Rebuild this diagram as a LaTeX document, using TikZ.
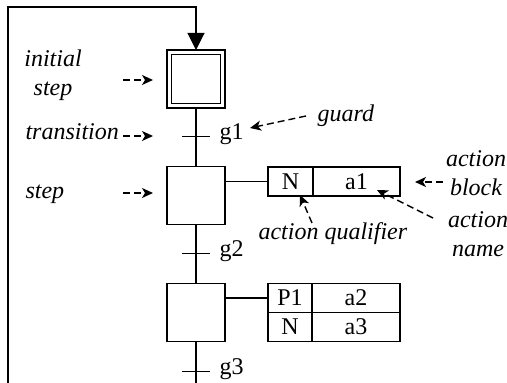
\documentclass[tikz,border=0pt]{standalone}
\usepackage{fontspec}
\setmainfont{Liberation Serif}
\usetikzlibrary{positioning,arrows.meta}

\begin{document}
\begin{tikzpicture}[x=0.5pt,y=-0.5pt,line width=0.55pt,
    font=\fontsize{12}{14.5}\selectfont,
    stepbox/.style={draw,minimum size=29pt,inner sep=0pt,outer sep=0pt},
    trans/.style={minimum width=14pt,inner sep=0pt,outer sep=0pt},
    cell/.style={draw,minimum height=14.5pt,inner sep=0pt,outer sep=0pt},
    lbl/.style={font=\fontsize{12}{14.5}\selectfont\itshape,inner sep=0pt,align=center},
    note/.style={-{Stealth[length=5.5pt,width=5pt,inset=1.5pt]},line width=0.7pt,dash pattern=on 3.5pt off 2pt}]
  \useasboundingbox (0,0) rectangle (507,383);
  % steps and transitions
  \node[stepbox] (s0) at (196,79) {};
  \node[stepbox,minimum size=24.5pt] (s0in) at (196,79) {};
  \node[stepbox] (s1) at (196,195.5) {};
  \node[stepbox] (s2) at (196,312.5) {};
  \node[trans] (t1) at (196,136.5) {};
  \node[trans] (t2) at (196,253.5) {};
  \node[trans] (t3) at (196,371.5) {};
  \node[anchor=base west,inner sep=0pt] (g1) at (219,140) {g1};
  \node[anchor=base west,inner sep=0pt] (g2) at (219,257) {g2};
  \node[anchor=base west,inner sep=0pt] (g3) at (219,375) {g3};
  \coordinate (loopbot) at (8,383);
  \coordinate (looptop) at (196,7);
  \coordinate (chartend) at (196,383);
  \draw[-{Triangle[length=8.5pt,width=8.5pt]}] (loopbot) |- (looptop) -- (s0);
  \foreach \from/\to in {s0/s1,s1/s2,s2/chartend}
    \draw (\from) -- (\to);
  \foreach \t in {t1,t2,t3}
    \draw (\t.west) -- (\t.east);
  % action blocks
  \node[cell,minimum width=22.5pt] (q1) at (290.5,181.5) {N};
  \node[cell,minimum width=43.5pt,right=0pt of q1] (a1) {a1};
  \node[cell,minimum width=22pt] (q2) at (290,298) {P1};
  \node[cell,minimum width=44pt,right=0pt of q2] (a2) {a2};
  \node[cell,minimum width=22pt,below=0pt of q2] (q3) {N};
  \node[cell,minimum width=44pt,right=0pt of q3] (a3) {a3};
  \draw (q1.west -| s1.east) -- (q1.west);
  \draw (q2.west -| s2.east) -- (q2.west);
  % annotations
  \node[lbl] (initlbl) at (53,75.5) {initial\\step};
  \node[lbl,anchor=base west] (translbl) at (25,140) {transition};
  \node[lbl,anchor=base west] (steplbl) at (25,199) {step};
  \node[lbl,anchor=base west] (guardlbl) at (317,122) {guard};
  \node[lbl] (blocklbl) at (476,173) {action\\block};
  \node[lbl] (namelbl) at (478,234) {action\\name};
  \node[lbl,anchor=base west] (quallbl) at (258,240) {action qualifier};
  \coordinate (ia) at (123,80);  \coordinate (ib) at (153,80);
  \coordinate (ta) at (123,136); \coordinate (tb) at (153,136);
  \coordinate (sa) at (123,193); \coordinate (sb) at (153,193);
  \coordinate (ga) at (306,116); \coordinate (gb) at (250,128);
  \coordinate (ba) at (443,182); \coordinate (bb) at (415,182);
  \coordinate (na) at (433,218); \coordinate (nb) at (377,190);
  \coordinate (qa) at (312,223); \coordinate (qb) at (300,195);
  \foreach \from/\to in {ia/ib,ta/tb,sa/sb,ga/gb,ba/bb,na/nb,qa/qb}
    \draw[note] (\from) -- (\to);
\end{tikzpicture}
\end{document}
